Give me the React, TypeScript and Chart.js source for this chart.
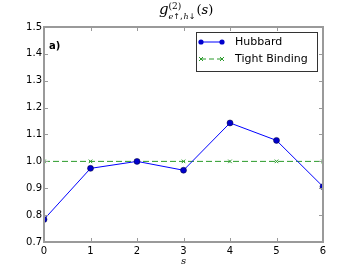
import React, { useEffect, useRef } from "react";
import { Chart, registerables } from "chart.js";

Chart.register(...registerables);

const sValues = [0, 1, 2, 3, 4, 5, 6];
const hubbard = [0.784, 0.974, 1.0, 0.967, 1.143, 1.078, 0.906];
const tightBinding = [1.0, 1.0, 1.0, 1.0, 1.0, 1.0, 1.0];
const yTicks = [0.7, 0.8, 0.9, 1.0, 1.1, 1.2, 1.3, 1.4, 1.5];
const seriesNames = ["Hubbard", "Tight Binding"];

const FRAME = "#9a9a9a";
const GREEN = "#2a9a2a";

const framePlugin = {
  id: "frameTicks",
  afterDatasetsDraw(chart: any) {
    const { ctx, chartArea: a, scales } = chart;
    ctx.save();
    ctx.strokeStyle = FRAME;
    ctx.lineWidth = 1;
    const tl = 4;
    scales.x.ticks.forEach((t: any) => {
      const px = Math.round(scales.x.getPixelForValue(t.value)) + 0.5;
      ctx.beginPath();
      ctx.moveTo(px, a.bottom);
      ctx.lineTo(px, a.bottom - tl);
      ctx.moveTo(px, a.top);
      ctx.lineTo(px, a.top + tl);
      ctx.stroke();
    });
    scales.y.ticks.forEach((t: any) => {
      const py = Math.round(scales.y.getPixelForValue(t.value)) + 0.5;
      ctx.beginPath();
      ctx.moveTo(a.left, py);
      ctx.lineTo(a.left + tl, py);
      ctx.moveTo(a.right, py);
      ctx.lineTo(a.right - tl, py);
      ctx.stroke();
    });
    ctx.lineWidth = 2;
    ctx.strokeRect(a.left, a.top, a.right - a.left, a.bottom - a.top);

    // panel label
    ctx.fillStyle = "#000";
    ctx.font = "bold 10px 'DejaVu Sans'";
    ctx.textBaseline = "middle";
    ctx.textAlign = "left";
    ctx.fillText("a)", a.left + 5, a.top + 19);

    // legend
    const lx = 196, ly = 32, lw = 121, lh = 39;
    ctx.fillStyle = "#fff";
    ctx.fillRect(lx, ly, lw, lh);
    ctx.strokeStyle = "#333";
    ctx.lineWidth = 1;
    ctx.strokeRect(lx + 0.5, ly + 0.5, lw, lh);
    const y1 = 42, y2 = 59, x0 = 201, x1 = 222;
    ctx.strokeStyle = "#0000ff";
    ctx.beginPath();
    ctx.moveTo(x0, y1);
    ctx.lineTo(x1, y1);
    ctx.stroke();
    ctx.fillStyle = "#0000cc";
    [x0, x1].forEach((x) => {
      ctx.beginPath();
      ctx.arc(x, y1, 2.6, 0, Math.PI * 2);
      ctx.fill();
    });
    ctx.strokeStyle = GREEN;
    ctx.setLineDash([5, 3]);
    ctx.beginPath();
    ctx.moveTo(x0, y2);
    ctx.lineTo(x1, y2);
    ctx.stroke();
    ctx.setLineDash([]);
    [x0, x1].forEach((x) => {
      ctx.beginPath();
      ctx.moveTo(x - 2, y2 - 2);
      ctx.lineTo(x + 2, y2 + 2);
      ctx.moveTo(x - 2, y2 + 2);
      ctx.lineTo(x + 2, y2 - 2);
      ctx.stroke();
    });
    ctx.fillStyle = "#000";
    ctx.font = "11px 'DejaVu Sans'";
    ctx.fillText(seriesNames[0], 235, y1);
    ctx.fillText(seriesNames[1], 235, y2);

    // title: g^{(2)}_{e↑,h↓}(s)
    ctx.textBaseline = "alphabetic";
    let x = 159;
    ctx.font = "italic 15px 'DejaVu Serif'";
    ctx.fillText("g", x, 14);
    x += ctx.measureText("g").width;
    ctx.font = "9px 'DejaVu Serif'";
    ctx.fillText("(2)", x, 9);
    ctx.font = "italic 8px 'DejaVu Serif'";
    let sx = x;
    ctx.fillText("e", sx, 19);
    sx += ctx.measureText("e").width;
    ctx.font = "8px 'DejaVu Sans'";
    ctx.fillText("↑,", sx, 19);
    sx += ctx.measureText("↑,").width + 1;
    ctx.font = "italic 8px 'DejaVu Serif'";
    ctx.fillText("h", sx, 19);
    sx += ctx.measureText("h").width;
    ctx.font = "8px 'DejaVu Sans'";
    ctx.fillText("↓", sx, 19);
    sx += ctx.measureText("↓").width + 1;
    ctx.font = "13px 'DejaVu Serif'";
    ctx.fillText("(", sx, 14);
    sx += ctx.measureText("(").width;
    ctx.font = "italic 13px 'DejaVu Serif'";
    ctx.fillText("s", sx, 14);
    sx += ctx.measureText("s").width;
    ctx.font = "13px 'DejaVu Serif'";
    ctx.fillText(")", sx, 14);

    // x axis label
    ctx.font = "italic 10px 'DejaVu Serif'";
    ctx.textAlign = "center";
    ctx.fillText("s", (a.left + a.right) / 2, 264);
    ctx.restore();
  },
};

export default function App() {
  const ref = useRef<HTMLCanvasElement>(null);
  useEffect(() => {
    const chart = new Chart(ref.current!, {
      type: "line",
      data: {
        datasets: [
          {
            label: seriesNames[0],
            data: sValues.map((s, i) => ({ x: s, y: hubbard[i] })),
            borderColor: "#0000ff",
            borderWidth: 1,
            pointRadius: 3,
            pointBackgroundColor: "#0000cc",
            pointBorderColor: "#000033",
            pointBorderWidth: 0.5,
            clip: 0,
            order: 1,
          },
          {
            label: seriesNames[1],
            data: sValues.map((s, i) => ({ x: s, y: tightBinding[i] })),
            borderColor: GREEN,
            borderWidth: 1,
            borderDash: [6, 3],
            pointStyle: "crossRot",
            pointRadius: 2.5,
            pointBorderColor: GREEN,
            pointBorderWidth: 1,
            clip: 0,
            order: 2,
          },
        ],
      },
      options: {
        animation: false,
        responsive: false,
        layout: { padding: { top: 27, right: 37, left: 0, bottom: 0 } },
        plugins: { legend: { display: false }, title: { display: false }, tooltip: { enabled: false } },
        scales: {
          x: {
            type: "linear",
            min: 0,
            max: 6,
            afterFit: (s: any) => {
              s.height = 27;
            },
            grid: { display: false, drawTicks: false },
            border: { display: false },
            ticks: {
              stepSize: 1,
              padding: 3,
              color: "#000",
              font: { family: "DejaVu Sans", size: 10 },
              maxRotation: 0,
            },
          },
          y: {
            type: "linear",
            min: 0.7,
            max: 1.5,
            afterFit: (s: any) => {
              s.width = 44;
            },
            afterBuildTicks: (s: any) => {
              s.ticks = yTicks.map((v) => ({ value: v }));
            },
            grid: { display: false, drawTicks: false },
            border: { display: false },
            ticks: {
              padding: 2,
              color: "#000",
              font: { family: "DejaVu Sans", size: 10 },
              callback: (v: any) => Number(v).toFixed(1),
            },
          },
        },
      },
      plugins: [framePlugin],
    });
    return () => chart.destroy();
  }, []);
  return (
    <div style={{ position: "fixed", left: 0, top: 0, width: 360, height: 269, background: "#fff" }}>
      <canvas ref={ref} width={360} height={269} style={{ width: 360, height: 269 }} />
    </div>
  );
}
